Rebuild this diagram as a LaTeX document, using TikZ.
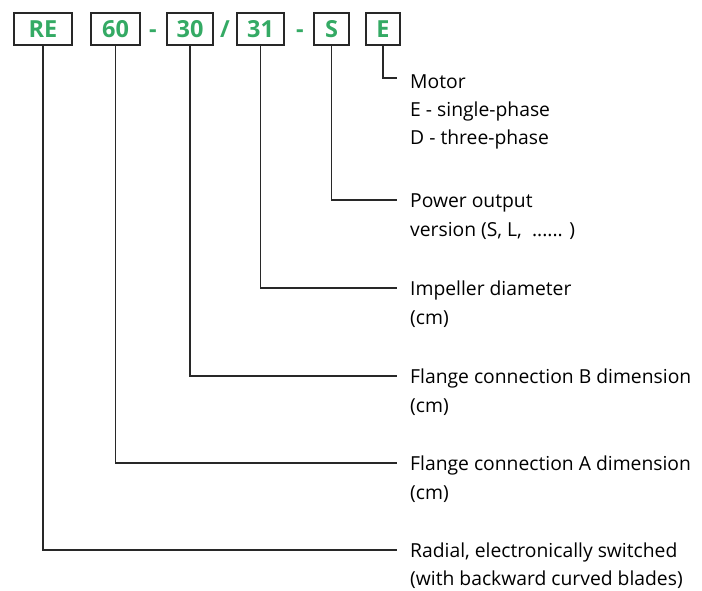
\documentclass[tikz,border=0pt]{standalone}
\usepackage{fontspec}
\setmainfont{Open Sans}
\usepackage{xcolor}
\usetikzlibrary{positioning}
\definecolor{codegreen}{RGB}{52,170,100}
\definecolor{codeframe}{RGB}{40,40,40}

\begin{document}
\begin{tikzpicture}[
  x=1pt, y=-1pt,
  code/.style={draw=codeframe, line width=1.1pt, minimum height=32pt,
               inner sep=0pt, text height=17pt, text depth=0pt,
               text=codegreen, font=\fontsize{23.5}{23.5}\selectfont\bfseries},
  sep/.style={text=codegreen, inner sep=0pt, text height=17pt, text depth=0pt,
              font=\fontsize{23.5}{23.5}\selectfont\bfseries},
  lbl/.style={inner sep=0pt, anchor=west, text height=15pt, text depth=1pt,
              font=\fontsize{19.3}{19.3}\selectfont},
  sub/.style={inner sep=0pt, text height=15pt, text depth=1pt,
              font=\fontsize{19.3}{19.3}\selectfont},
  lead/.style={line width=1.1pt, draw=codeframe},
]
\useasboundingbox (0,0) rectangle (702,590);

% type code boxes
\node[code, minimum width=58pt] (re)  at (43,29)    {RE};
\node[code, minimum width=49pt] (dia) at (115.5,29) {60};
\node[sep]                      (d1)  at (153,29)   {-};
\node[code, minimum width=46pt] (fb)  at (190,29)   {30};
\node[sep]                      (sl)  at (225,29)   {/};
\node[code, minimum width=47pt] (imp) at (260.5,29) {31};
\node[sep]                      (d2)  at (300,29)   {-};
\node[code, minimum width=35pt] (pow) at (331.5,29) {S};
\node[code, minimum width=34pt] (mot) at (383,29)   {E};

% explanations
\node[lbl] (motL)  at (410,81)  {Motor};
\node[sub, below right=12pt and 0pt of motL.south west] (motL2) {E - single-phase};
\node[sub, below right=12pt and 0pt of motL2.south west] (motL3) {D - three-phase};

\node[lbl] (powL)  at (410,200) {Power output};
\node[sub, below right=13pt and 0pt of powL.south west] (powL2) {version (S, L,\ \ ...... )};

\node[lbl] (impL)  at (410,288) {Impeller diameter};
\node[sub, below right=13pt and 0pt of impL.south west] (impL2) {(cm)};

\node[lbl] (fbL)   at (410,376) {Flange connection B dimension};
\node[sub, below right=13pt and 0pt of fbL.south west] (fbL2) {(cm)};

\node[lbl] (diaL)  at (410,463) {Flange connection A dimension};
\node[sub, below right=13pt and 0pt of diaL.south west] (diaL2) {(cm)};

\node[lbl] (reL)   at (410,550) {Radial, electronically switched};
\node[sub, below right=12pt and 0pt of reL.south west] (reL2) {(with backward curved blades)};

% leaders
\draw[lead] (mot.south) |- ([xshift=-13pt, yshift=3pt]motL.west);
\draw[lead] (pow.south) |- ([xshift=-13pt]powL.west);
\draw[lead] (imp.south) |- ([xshift=-13pt]impL.west);
\draw[lead] (fb.south)  |- ([xshift=-13pt]fbL.west);
\draw[lead] (dia.south) |- ([xshift=-13pt]diaL.west);
\draw[lead] (re.south)  |- ([xshift=-13pt]reL.west);

\end{tikzpicture}
\end{document}
